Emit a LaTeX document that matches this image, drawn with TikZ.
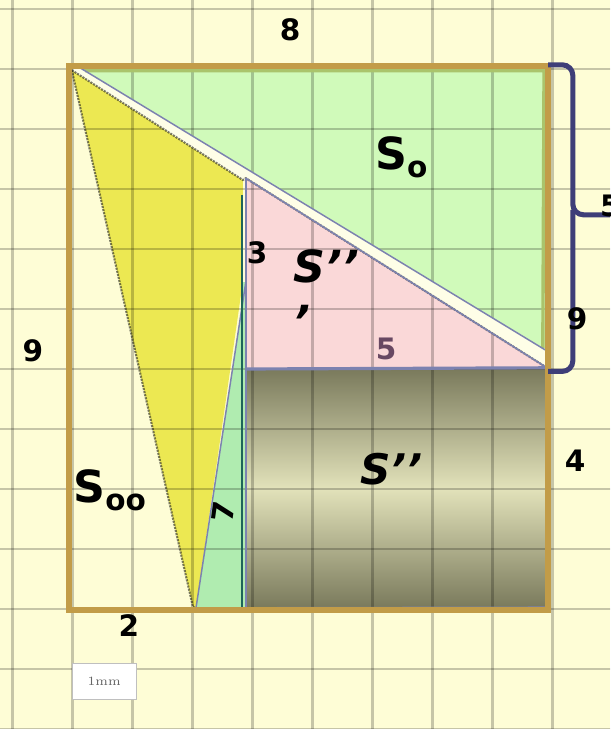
\documentclass[tikz,border=0pt]{standalone}
\usepackage{fontspec}
\setsansfont{DejaVu Sans}
\usetikzlibrary{calc}
\definecolor{paper}{RGB}{254,253,214}
\definecolor{framegold}{RGB}{194,156,72}
\definecolor{greenfill}{RGB}{208,250,186}
\definecolor{greenedge}{RGB}{170,196,108}
\definecolor{thingreen}{RGB}{176,236,176}
\definecolor{pinkfill}{RGB}{250,216,216}
\definecolor{yellowfill}{RGB}{236,232,82}
\definecolor{olivedark}{RGB}{122,122,92}
\definecolor{olivelight}{RGB}{226,226,186}
\definecolor{edgeblue}{RGB}{124,130,176}
\definecolor{bracenavy}{RGB}{62,62,120}
\definecolor{tealedge}{RGB}{30,100,90}
\definecolor{mauve}{RGB}{104,72,98}
\tikzset{
    sq_grid/.style={
        line width=1.1pt,
        black,
        opacity=0.22
    },
    sq_edge/.style={
        draw=edgeblue,
        line width=0.7pt
    },
    sq_dark_edge/.style={
        draw=black!70!olivedark,
        line width=1pt,
        dash pattern=on 1pt off 0.5pt,
        opacity=0.6
    },
    sq_digit/.style={
        font=\sffamily\bfseries\fontsize{14}{17}\selectfont,
        inner sep=0pt
    },
    sq_name/.style={
        font=\sffamily\bfseries\fontsize{21}{26}\selectfont,
        inner sep=0pt
    },
    sq_name_slanted/.style={
        font=\sffamily\bfseries\itshape\fontsize{21}{26}\selectfont,
        inner sep=0pt,
        align=left
    }
}
\newcommand{\subo}[1]{\raisebox{-3.5pt}{\fontsize{14}{14}\selectfont #1}}

\begin{document}
\begin{tikzpicture}
\useasboundingbox (-1.167,-2.0) rectangle (9.0,10.15);
\clip (-1.167,-2.0) rectangle (9.0,10.15);
\fill[paper] (-1.167,-2.0) rectangle (9.0,10.15);

% corner points of the pieces
\coordinate (gTL) at (0.15,9.03);
\coordinate (gTR) at (7.97,9.03);
\coordinate (gBR) at (7.95,4.30);
\coordinate (yTop) at (0.03,8.98);
\coordinate (yMid) at (2.88,7.15);
\coordinate (yKnee) at (2.88,5.45);
\coordinate (yBot) at (2.05,0.03);
\coordinate (pTop) at (2.93,7.18);
\coordinate (pBL) at (2.93,4.00);
\coordinate (pBR) at (7.95,4.02);
\coordinate (tBL) at (2.10,0.02);
\coordinate (tBR) at (2.93,0.02);
\coordinate (tTop) at (2.93,5.45);
\coordinate (oTR) at (7.95,4.00);

% pieces
\fill[greenfill] (gTL) -- (gTR) -- (gBR) -- cycle;
\fill[yellowfill] (yTop) -- (yMid) -- (yKnee) -- (tBL) -- (yBot) -- cycle;
\fill[thingreen] (tBL) -- (tBR) -- (tTop) -- cycle;
\fill[thingreen] (2.86,0.02) rectangle (tTop);
\fill[pinkfill] (pTop) -- (pBL) -- (pBR) -- cycle;
\shade[top color=olivedark, bottom color=olivedark, middle color=olivelight]
  (tBR) rectangle (oTR);

% squared paper
\foreach \gx in {-1,...,9}
  \draw[sq_grid] (\gx+0.04,-2.1) -- (\gx+0.04,10.3);
\foreach \gy in {-2,...,10}
  \draw[sq_grid] (-1.3,\gy) -- (9.1,\gy);

% gap along the diagonal
\fill[paper!60!white] (gTL) -- (gBR) -- (pBR) -- (pTop) -- (yMid) -- (yTop) -- cycle;

% edges
\draw[sq_dark_edge] (yTop) -- (yMid) -- (pTop) -- (pBR);
\draw[sq_dark_edge] (yTop) -- (yBot) -- (tBL);
\draw[greenedge, line width=1.6pt] ($(gTL)+(0.1,-0.06)$) -- ($(gTR)+(-0.07,-0.06)$) -- ($(gBR)+(-0.07,0.05)$);
\draw[sq_edge] (gTL) -- (gTR) -- (gBR) -- cycle;
\draw[sq_edge] (tBL) -- (tTop);
\draw[tealedge, line width=1.2pt] (2.87,6.9) -- (2.87,0.03);
\draw[sq_edge, line width=1pt] (pTop) -- (tBR);
\draw[sq_edge] (pTop) -- (pBR);
\draw[sq_edge, line width=1.5pt] (pBL) -- (pBR);
\draw[sq_edge] (tBR) -- (7.95,0.03) -- (oTR);

% outer frame
\draw[framegold, line width=2.8pt] (-0.02,-0.02) rectangle (7.97,9.05);

% brace
\draw[bracenavy, line width=2.4pt, rounded corners=5pt]
  (7.97,9.07) -- (8.38,9.07) -- (8.38,6.57) -- (9.2,6.57);
\draw[bracenavy, line width=2.4pt, rounded corners=5pt]
  (8.38,6.65) -- (8.38,3.96) -- (7.97,3.96);

% side lengths
\node[sq_digit] (top8) at (3.67,9.65) {8};
\node[sq_digit] (left9) at (-0.62,4.30) {9};
\node[sq_digit] (bot2) at (0.98,-0.27) {2};
\node[sq_digit] (right4) at (8.42,2.47) {4};
\node[sq_digit] (right9) at (8.45,4.83) {9};
\node[sq_digit, anchor=west] (right5) at (8.83,6.72) {5};
\node[sq_digit] (leg3) at (3.12,5.93) {3};
\node[sq_digit, text=mauve] (leg5) at (5.27,4.33) {5};
\node[sq_digit, rotate=82] (leg7) at (2.55,1.62) {7};

% areas
\node[sq_name, anchor=base west] (So) at (5.08,7.32) {S\subo{o}};
\node[sq_name, anchor=base west] (Soo) at (0.05,1.77) {S\subo{oo}};
\node[sq_name_slanted, anchor=north west] (Spink) at (3.72,6.0) {S’’\\’};
\node[sq_name_slanted, font=\sffamily\bfseries\itshape\fontsize{20}{24}\selectfont, anchor=base west] (Solive) at (4.83,2.07) {S’’};

% scale mark
\node[draw=black!25, fill=white, minimum width=1.07cm, minimum height=0.6cm,
  inner sep=0pt, font=\fontsize{6}{7}\selectfont, text=black!60] (scale) at (0.57,-1.21) {1mm};

\end{tikzpicture}
\end{document}
